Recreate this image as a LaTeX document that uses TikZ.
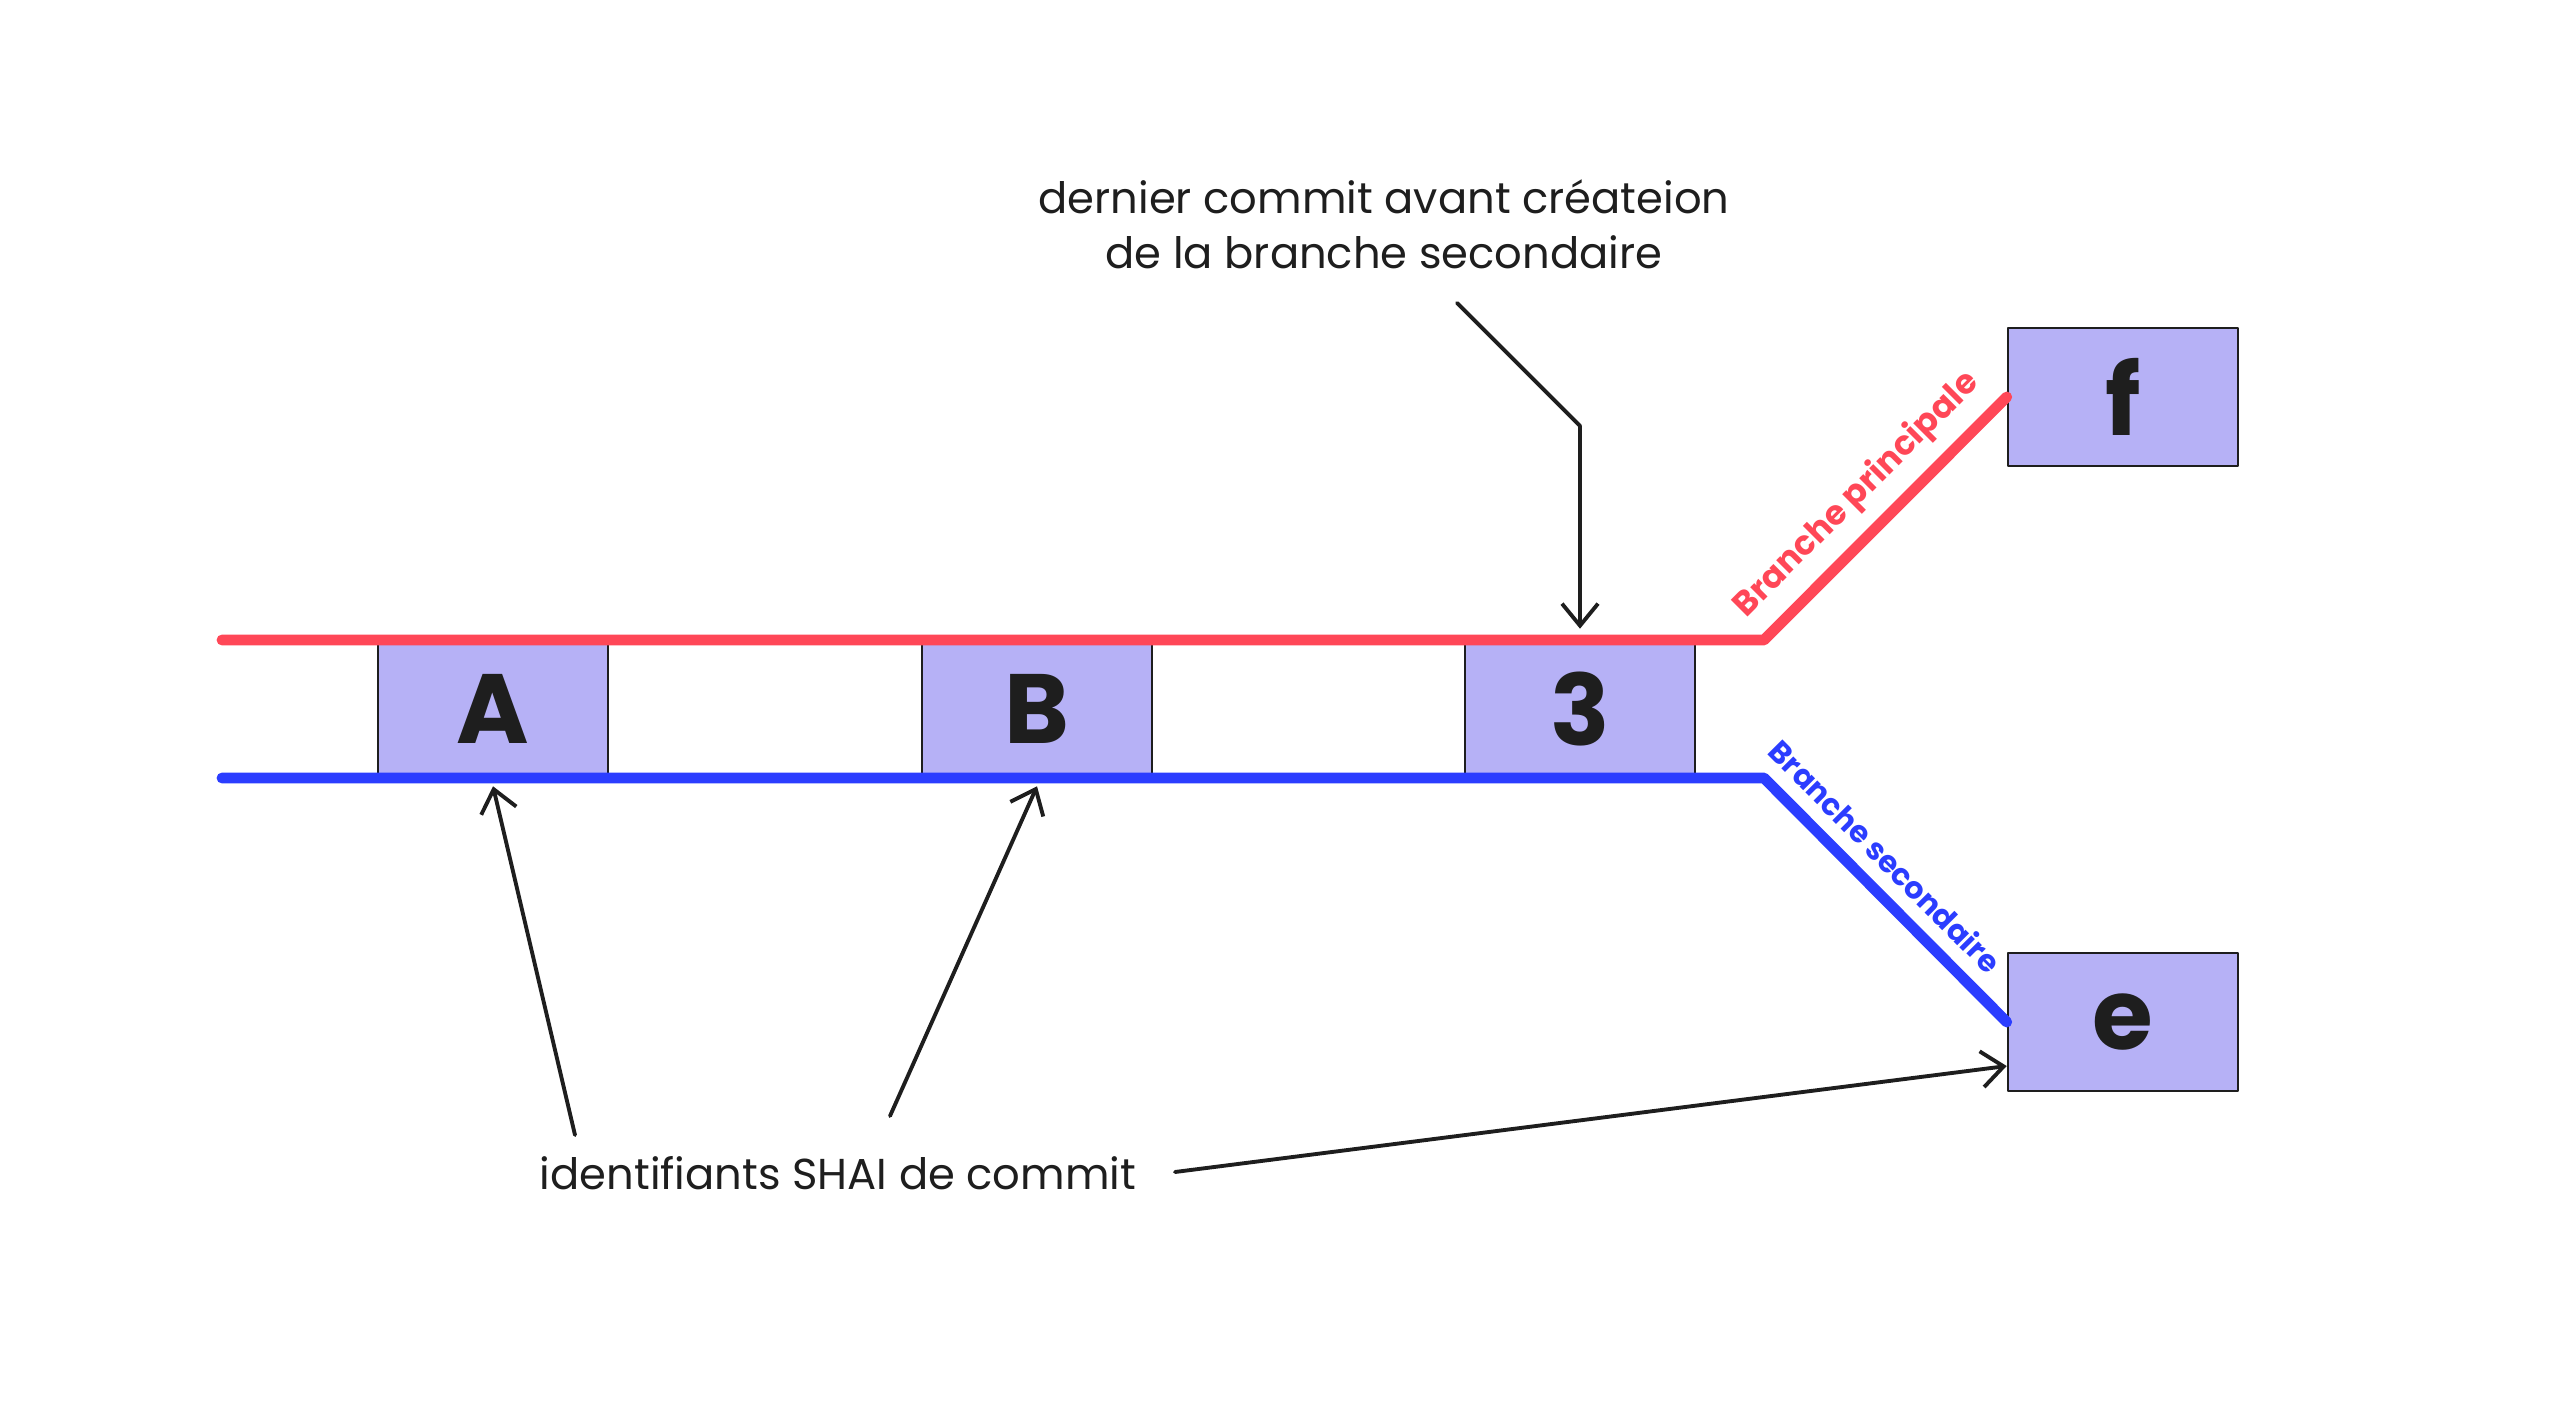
\documentclass[tikz,border=0pt]{standalone}
\usepackage{fontspec}
\setmainfont{Poppins}
\usetikzlibrary{arrows.meta}
\definecolor{mainred}{HTML}{FF4757}
\definecolor{featblue}{HTML}{2B3DFF}
\definecolor{commitfill}{HTML}{B6B1F6}
\definecolor{ink}{HTML}{1E1E1E}
\tikzset{
  commit/.style={draw=ink, line width=0.7pt, fill=commitfill, minimum width=2.3cm, minimum height=1.38cm, inner sep=0pt, text=ink, font=\fontsize{28}{30}\selectfont\bfseries},
  branch/.style={line width=3.1pt},
  blabel/.style={sloped, above=0.5pt},
  note/.style={text=ink, align=center, font=\fontsize{12.3}{15.6}\selectfont},
  pointer/.style={->, draw=ink, line width=1.1pt}
}
\begin{document}
\begin{tikzpicture}[x=0.01cm, y=0.01cm, line join=round, line cap=round, >={Straight Barb[length=2.2mm,width=3.6mm]}]
	\useasboundingbox (0,0) rectangle (2560,1405);
	% commits
	\node[commit] (A) at (493,696) {A};
	\node[commit] (B) at (1037,696) {B};
	\node[commit] (C) at (1580,696) {3};
	\node[commit] (f) at (2123,1008) {f};
	\node[commit] (e) at (2123,383) {e};
	% branches
	\coordinate (mstart) at (222,765);
	\coordinate (mfork) at (1764,765);
	\coordinate (sstart) at (222,627);
	\coordinate (sfork) at (1764,627);
	\draw[branch, mainred] (mstart) -- (mfork) -- node[blabel, pos=0.49, font=\bfseries\fontsize{9.6}{10}\selectfont]{Branche principale} (f.west);
	\draw[branch, featblue] (sstart) -- (sfork) -- node[blabel, pos=0.41, font=\bfseries\fontsize{8.6}{10}\selectfont]{Branche secondaire} (e.west);
	% notes
	\node[note] (last) at (1384,1181) {dernier commit avant créateion\\de la branche secondaire};
	\node[note] (sha) at (838,232) {identifiants SHAI de commit};
	\coordinate (lasttail) at (1457,1102);
	\coordinate (shaA) at (575,270);
	\coordinate (shaB) at (890,289);
	\coordinate (shaE) at (1175,233);
	\draw[pointer] (lasttail) -- ++(123,-123) -- ([yshift=0.1cm]C.north);
	\draw[pointer] (shaA) -- ([yshift=-0.07cm]A.south);
	\draw[pointer] (shaB) -- ([yshift=-0.07cm]B.south);
	\draw[pointer] (shaE) -- ([yshift=-0.44cm]e.west);
\end{tikzpicture}
\end{document}
